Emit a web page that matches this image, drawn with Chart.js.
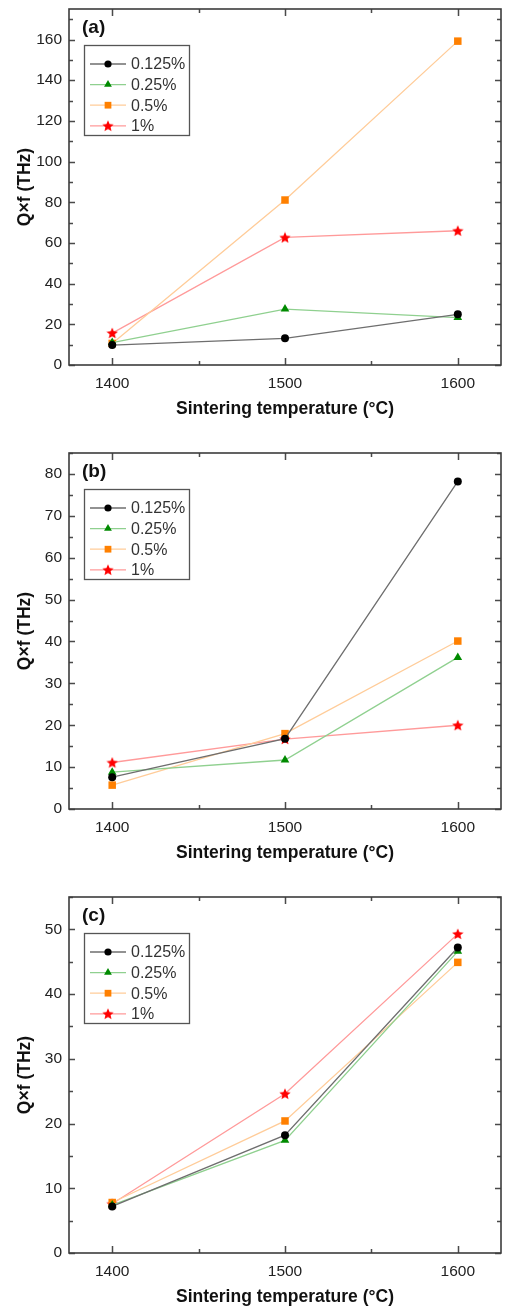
<!DOCTYPE html>
<html><head><meta charset="utf-8">
<script src="https://cdn.jsdelivr.net/npm/chart.js@4/dist/chart.umd.min.js"></script>
<style>
html,body{margin:0;padding:0;background:#fff;overflow:hidden;width:507px;height:1308px}
canvas{position:absolute;left:0}
</style></head>
<body>
<canvas id="ca" width="507" height="436" style="top:0px"></canvas>
<canvas id="cb" width="507" height="444" style="top:436px"></canvas>
<canvas id="cc" width="507" height="428" style="top:880px"></canvas>
<script>
// ---- data ----
const temperatures = [1400, 1500, 1600];
const xTickValues = [1400, 1500, 1600];
const seriesLabels = ['0.125%', '0.25%', '0.5%', '1%'];
const panelLabels = ['(a)', '(b)', '(c)'];
const xTitle = 'Sintering temperature (°C)';
const yTitle = 'Q×f (THz)';

const a_0125 = [9.8, 13.1, 24.9];
const a_025  = [11.0, 27.5, 23.3];
const a_05   = [10.6, 81.1, 159.2];
const a_1    = [15.7, 62.7, 66.0];

const b_0125 = [7.6, 16.8, 78.2];
const b_025  = [8.8, 11.7, 36.2];
const b_05   = [5.7, 18.0, 40.1];
const b_1    = [11.1, 16.7, 20.0];

const c_0125 = [7.2, 18.2, 47.2];
const c_025  = [7.4, 17.4, 46.6];
const c_05   = [7.8, 20.4, 44.9];
const c_1    = [7.6, 24.6, 49.3];

const yMaxA = 175, yStepA = 20;
const yMaxB = 85,  yStepB = 10;
const yMaxC = 55,  yStepC = 10;
const xMin = 1375, xMax = 1625, xStep = 100;

// ---- styles ----
const FONT = "'Liberation Sans', Arial, Helvetica, sans-serif";
function makeStar(size, color) {
  const c = document.createElement('canvas');
  c.width = size; c.height = size;
  const g = c.getContext('2d');
  const cx = size / 2, cy = size / 2 + 0.5, R = size / 2, r = R * 0.45;
  g.beginPath();
  for (let i = 0; i < 10; i++) {
    const rad = i % 2 === 0 ? R : r;
    const ang = -Math.PI / 2 + i * Math.PI / 5;
    const px = cx + rad * Math.cos(ang), py = cy + rad * Math.sin(ang);
    if (i === 0) g.moveTo(px, py); else g.lineTo(px, py);
  }
  g.closePath();
  g.fillStyle = color; g.fill();
  return c;
}
const starImg = makeStar(12, '#ff0000');
const seriesStyle = [
  {line: '#6e6e6e', fill: '#000000', pointStyle: 'circle', radius: 4},
  {line: '#8fd08f', fill: '#008a00', pointStyle: 'triangle', radius: 5},
  {line: '#ffcc99', fill: '#ff8000', pointStyle: 'rect', radius: 5.3},
  {line: '#ff9a9a', fill: '#ff0000', pointStyle: starImg, radius: 6}
];

function toXY(vals) { return temperatures.map((t, i) => ({x: t, y: vals[i]})); }

const panelPlugin = {
  id: 'panelDecor',
  afterDraw(chart) {
    const ctx = chart.ctx, area = chart.chartArea;
    const xs = chart.scales.x, ys = chart.scales.y;
    const po = chart.options.plugins.panelDecor;
    ctx.save();
    // ticks
    ctx.strokeStyle = '#4a4a4a';
    ctx.lineWidth = 1.5;
    const majL = 6, minL = 4;
    const yStep = ys.options.ticks.stepSize;
    for (let v = ys.min; v <= ys.max + 1e-9; v += yStep / 2) {
      const major = Math.abs((v / yStep) - Math.round(v / yStep)) < 1e-6;
      const L = major ? majL : minL;
      const py = Math.round(ys.getPixelForValue(v)) + 0.5;
      ctx.beginPath();
      ctx.moveTo(area.left, py); ctx.lineTo(area.left + L, py);
      ctx.moveTo(area.right, py); ctx.lineTo(area.right - L, py);
      ctx.stroke();
    }
    for (let v = 1400; v <= 1600; v += xStep / 2) {
      const major = (v % xStep) === 0;
      const L = major ? majL + 1 : minL;
      const px = Math.round(xs.getPixelForValue(v)) + 0.5;
      ctx.beginPath();
      ctx.moveTo(px, area.bottom); ctx.lineTo(px, area.bottom - L);
      ctx.moveTo(px, area.top); ctx.lineTo(px, area.top + L);
      ctx.stroke();
    }
    // frame
    ctx.strokeStyle = '#3c3c3c';
    ctx.lineWidth = 1.6;
    ctx.strokeRect(area.left, area.top, area.right - area.left, area.bottom - area.top);

    // panel label
    ctx.fillStyle = '#111';
    ctx.font = 'bold 19px ' + FONT;
    ctx.textAlign = 'left'; ctx.textBaseline = 'middle';
    ctx.fillText(po.label, area.left + 13, area.top + 19);

    // legend
    const bx = area.left + 15, by = area.top + 36, bw = 105, bh = 90;
    ctx.fillStyle = '#fff';
    ctx.fillRect(bx, by, bw, bh);
    ctx.strokeStyle = '#555';
    ctx.lineWidth = 1.3;
    ctx.strokeRect(bx + 0.5, by + 0.5, bw, bh);
    ctx.font = '16px ' + FONT;
    ctx.textBaseline = 'middle';
    chart.data.datasets.forEach((ds, i) => {
      const ey = by + 19 + i * 20.6;
      ctx.strokeStyle = ds.borderColor;
      ctx.lineWidth = 1.3;
      ctx.beginPath();
      ctx.moveTo(bx + 6, ey); ctx.lineTo(bx + 42, ey);
      ctx.stroke();
      ctx.fillStyle = ds.pointBackgroundColor;
      ctx.strokeStyle = ds.pointBackgroundColor;
      Chart.helpers.drawPoint(ctx, {pointStyle: ds.pointStyle, radius: ds.pointRadius * 0.9, rotation: 0, borderWidth: 0}, bx + 24, ey);
      ctx.fillStyle = '#333';
      ctx.fillText(ds.label, bx + 47, ey + 1);
    });
    ctx.restore();
  }
};

function makeChart(id, sets, yMax, yStep, label, padTop, xH) {
  const datasets = sets.map((vals, i) => ({
    label: seriesLabels[i],
    data: toXY(vals),
    borderColor: seriesStyle[i].line,
    borderWidth: 1.3,
    pointStyle: seriesStyle[i].pointStyle,
    pointRadius: seriesStyle[i].radius,
    pointBackgroundColor: seriesStyle[i].fill,
    pointBorderColor: seriesStyle[i].fill,
    pointBorderWidth: 0,
    tension: 0,
    clip: false
  }));
  return new Chart(document.getElementById(id), {
    type: 'line',
    data: {datasets},
    plugins: [panelPlugin],
    options: {
      responsive: false,
      animation: false,
      devicePixelRatio: 1,
      layout: {padding: {top: padTop, left: 0, right: 1, bottom: 0}},
      plugins: {
        legend: {display: false},
        tooltip: {enabled: false},
        panelDecor: {label}
      },
      scales: {
        x: {
          type: 'linear', min: xMin, max: xMax,
          grid: {display: false, drawTicks: false},
          border: {display: false},
          ticks: {
            stepSize: xStep, includeBounds: false, padding: 9, color: '#222',
            font: {family: FONT, size: 15.5},
            maxRotation: 0,
            callback: v => xTickValues.includes(v) ? String(v) : null
          },
          title: {
            display: true, text: xTitle, color: '#111',
            font: {family: FONT, size: 17.5, weight: 'bold', lineHeight: 1.2},
            padding: {top: 0, bottom: xH - 44 - 10.5}
          },
          afterFit: s => { s.height = xH; s.paddingLeft = 0; s.paddingRight = 0; }
        },
        y: {
          type: 'linear', min: 0, max: yMax,
          grid: {display: false, drawTicks: false},
          border: {display: false},
          ticks: {
            stepSize: yStep, includeBounds: false, padding: 7, color: '#222',
            font: {family: FONT, size: 15.5},
            callback: v => String(v)
          },
          title: {
            display: true, text: yTitle, color: '#111',
            font: {family: FONT, size: 17.5, weight: 'bold', lineHeight: 1.2},
            padding: {top: 14.5, bottom: 0}
          },
          afterFit: s => { s.width = 69; s.paddingTop = 0; s.paddingBottom = 0; }
        }
      }
    }
  });
}

makeChart('ca', [a_0125, a_025, a_05, a_1], yMaxA, yStepA, panelLabels[0], 9, 71);
makeChart('cb', [b_0125, b_025, b_05, b_1], yMaxB, yStepB, panelLabels[1], 17, 71);
makeChart('cc', [c_0125, c_025, c_05, c_1], yMaxC, yStepC, panelLabels[2], 17, 55);
</script>
</body></html>
